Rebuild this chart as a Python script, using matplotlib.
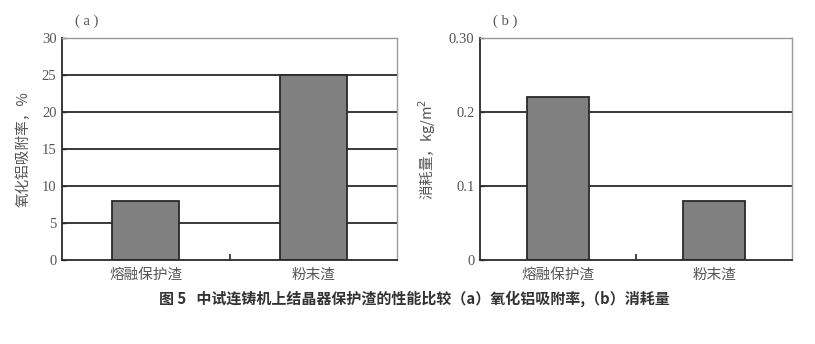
import numpy as np
import matplotlib
matplotlib.use('Agg')
import matplotlib.pyplot as plt

plt.rcParams['font.family'] = ['Noto Sans CJK SC', 'DejaVu Sans']

categories = ['熔融保护渣', '粉末渣']
adsorption = [8, 25]        # (a) 氧化铝吸附率, %
consumption = [0.22, 0.08]  # (b) 消耗量, kg/m2

grey = '#555555'
num_font = {'family': 'Liberation Serif', 'size': 10.5, 'color': grey}

fig = plt.figure(figsize=(8.15, 3.44), dpi=100)
ax1 = fig.add_axes([0.0761, 0.2442, 0.411, 0.6453])
ax2 = fig.add_axes([0.589, 0.2442, 0.3828, 0.6453])


def style(ax, values, ymax, yticks, ylabels, ylabel, tag):
    x = np.arange(len(categories))
    for t in yticks[1:-1]:
        ax.axhline(t, color='#2a2a2a', lw=1.3, zorder=1)
    ax.bar(x, values, width=0.4, color='#808080', edgecolor='#2a2a2a',
           lw=1.3, zorder=2)
    ax.set_xlim(-0.5, 1.5)
    ax.set_ylim(0, ymax)
    ax.set_yticks(yticks)
    ax.set_yticklabels(ylabels, fontdict=num_font)
    ax.set_xticks([0.5])
    ax.set_xticklabels([''])
    ax.tick_params(axis='x', direction='in', length=4, width=1.2, color='#2a2a2a')
    ax.tick_params(axis='y', direction='in', length=3, width=1, color='#2a2a2a', pad=4)
    for i, c in enumerate(categories):
        ax.text(i, -0.035 * ymax, c, ha='center', va='top', fontsize=10.5,
                color=grey, transform=ax.transData)
    for s in ['left', 'bottom']:
        ax.spines[s].set_color('#2a2a2a')
        ax.spines[s].set_linewidth(1.3)
    for s in ['top', 'right']:
        ax.spines[s].set_color('#9a9a9a')
        ax.spines[s].set_linewidth(1.0)
    ax.set_ylabel(ylabel, fontsize=10.5, color=grey, labelpad=8)
    ax.text(0.04, 1.045, tag, transform=ax.transAxes, fontsize=10.5, color=grey,
            ha='left', va='bottom', family='Liberation Serif')


style(ax1, adsorption, 30, [0, 5, 10, 15, 20, 25, 30],
      ['0', '5', '10', '15', '20', '25', '30'], '氧化铝吸附率，%', '( a )')
style(ax2, consumption, 0.30, [0, 0.1, 0.2, 0.30],
      ['0', '0.1', '0.2', '0.30'], '消耗量，kg/m$^2$', '( b )')

fig.text(0.508, 0.132, '图 5   中试连铸机上结晶器保护渣的性能比较（a）氧化铝吸附率,（b）消耗量',
         ha='center', va='center', fontsize=10.8, fontweight='bold', color='#333333')

fig.savefig('out.png', dpi=100)
